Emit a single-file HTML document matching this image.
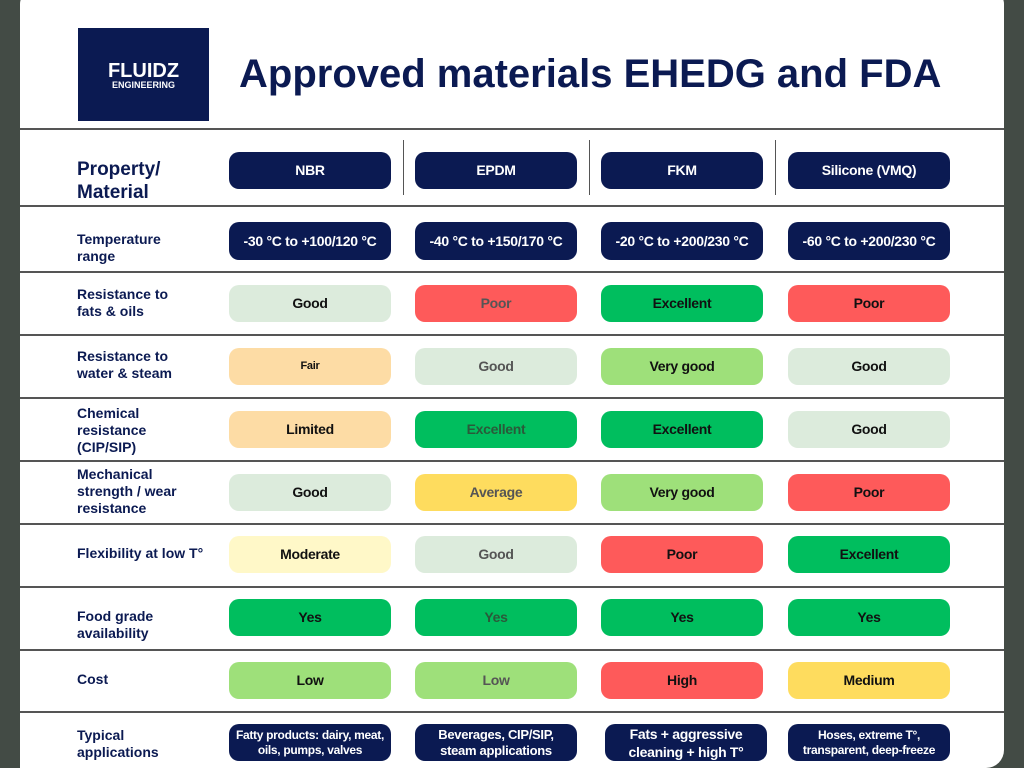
<!DOCTYPE html>
<html><head><meta charset="utf-8"><style>
body{margin:0;width:1024px;height:768px;background:#434b45;font-family:"Liberation Sans",sans-serif;overflow:hidden;position:relative}
.card{position:absolute;left:20px;top:-10px;width:984px;height:778px;background:#fff;border-radius:14px 14px 18px 0}
.logo{position:absolute;left:78px;top:28px;width:131px;height:93px;background:#0b1a52;color:#fff;text-align:center;font-weight:bold}
.title{position:absolute;left:239px;top:52px;font-size:40px;font-weight:bold;color:#0b1a52;letter-spacing:0}
.hl{position:absolute;left:20px;width:984px;height:2px;background:#555}
.vl{position:absolute;top:140px;width:1px;height:55px;background:#555}
.lab{position:absolute;left:77px;font-size:14px;font-weight:bold;color:#0b1a52;line-height:17px}
.pill{position:absolute;width:162px;height:37px;border-radius:10px;display:flex;align-items:center;justify-content:center;text-align:center;font-size:14px;font-weight:bold;color:#111;line-height:17px;letter-spacing:-0.3px}
.n{background:#0b1a52;color:#fff}
.good{background:#dcebdc}.poor{background:#fe5a5a}.exc{background:#00be5e}.fair{background:#fddca5}.vg{background:#9ee07a}.avg{background:#fedc5e}.mod{background:#fff8c8}
.g{color:#555}
</style></head><body>
<div class="card"></div>
<div class="logo"><div style="font-size:20px;margin-top:34px;line-height:18px">FLUIDZ</div><div style="font-size:9px">ENGINEERING</div></div>
<div class="title">Approved materials EHEDG and FDA</div>
<div class="hl" style="top:128px"></div>
<div class="hl" style="top:205px"></div>
<div class="hl" style="top:271px"></div>
<div class="hl" style="top:334px"></div>
<div class="hl" style="top:397px"></div>
<div class="hl" style="top:460px"></div>
<div class="hl" style="top:523px"></div>
<div class="hl" style="top:586px"></div>
<div class="hl" style="top:649px"></div>
<div class="hl" style="top:711px"></div>
<div class="vl" style="left:403px"></div>
<div class="vl" style="left:589px"></div>
<div class="vl" style="left:775px"></div>

<div class="lab" style="top:158px;font-size:19px;line-height:23px">Property/<br>Material</div>
<div class="pill n" style="left:229px;top:152px">NBR</div>
<div class="pill n" style="left:415px;top:152px">EPDM</div>
<div class="pill n" style="left:601px;top:152px">FKM</div>
<div class="pill n" style="left:788px;top:152px">Silicone (VMQ)</div>

<div class="lab" style="top:231px">Temperature<br>range</div>
<div class="pill n" style="left:229px;top:222px;height:38px">-30 °C to +100/120 °C</div>
<div class="pill n" style="left:415px;top:222px;height:38px">-40 °C to +150/170 °C</div>
<div class="pill n" style="left:601px;top:222px;height:38px">-20 °C to +200/230 °C</div>
<div class="pill n" style="left:788px;top:222px;height:38px">-60 °C to +200/230 °C</div>

<div class="lab" style="top:286px">Resistance to<br>fats &amp; oils</div>
<div class="pill good" style="left:229px;top:285px">Good</div>
<div class="pill poor g" style="left:415px;top:285px">Poor</div>
<div class="pill exc" style="left:601px;top:285px">Excellent</div>
<div class="pill poor" style="left:788px;top:285px">Poor</div>

<div class="lab" style="top:348px">Resistance to<br>water &amp; steam</div>
<div class="pill fair" style="left:229px;top:348px;font-size:11px">Fair</div>
<div class="pill good g" style="left:415px;top:348px">Good</div>
<div class="pill vg" style="left:601px;top:348px">Very good</div>
<div class="pill good" style="left:788px;top:348px">Good</div>

<div class="lab" style="top:405px">Chemical<br>resistance<br>(CIP/SIP)</div>
<div class="pill fair" style="left:229px;top:411px">Limited</div>
<div class="pill exc" style="left:415px;top:411px;color:#2a5a3a">Excellent</div>
<div class="pill exc" style="left:601px;top:411px">Excellent</div>
<div class="pill good" style="left:788px;top:411px">Good</div>

<div class="lab" style="top:466px">Mechanical<br>strength / wear<br>resistance</div>
<div class="pill good" style="left:229px;top:474px">Good</div>
<div class="pill avg g" style="left:415px;top:474px">Average</div>
<div class="pill vg" style="left:601px;top:474px">Very good</div>
<div class="pill poor" style="left:788px;top:474px">Poor</div>

<div class="lab" style="top:545px">Flexibility at low T°</div>
<div class="pill mod" style="left:229px;top:536px">Moderate</div>
<div class="pill good g" style="left:415px;top:536px">Good</div>
<div class="pill poor" style="left:601px;top:536px">Poor</div>
<div class="pill exc" style="left:788px;top:536px">Excellent</div>

<div class="lab" style="top:608px">Food grade<br>availability</div>
<div class="pill exc" style="left:229px;top:599px">Yes</div>
<div class="pill exc" style="left:415px;top:599px;color:#2a5a3a">Yes</div>
<div class="pill exc" style="left:601px;top:599px">Yes</div>
<div class="pill exc" style="left:788px;top:599px">Yes</div>

<div class="lab" style="top:671px">Cost</div>
<div class="pill vg" style="left:229px;top:662px">Low</div>
<div class="pill vg g" style="left:415px;top:662px">Low</div>
<div class="pill poor" style="left:601px;top:662px">High</div>
<div class="pill avg" style="left:788px;top:662px">Medium</div>

<div class="lab" style="top:727px">Typical<br>applications</div>
<div class="pill n" style="left:229px;top:724px;font-size:12px;line-height:15px">Fatty products: dairy, meat,<br>oils, pumps, valves</div>
<div class="pill n" style="left:415px;top:724px;font-size:13px;line-height:16px">Beverages, CIP/SIP,<br>steam applications</div>
<div class="pill n" style="left:605px;top:724px;font-size:14px;line-height:18px">Fats + aggressive<br>cleaning + high T°</div>
<div class="pill n" style="left:788px;top:724px;font-size:12px;line-height:15px">Hoses, extreme T°,<br>transparent, deep-freeze</div>
</body></html>
